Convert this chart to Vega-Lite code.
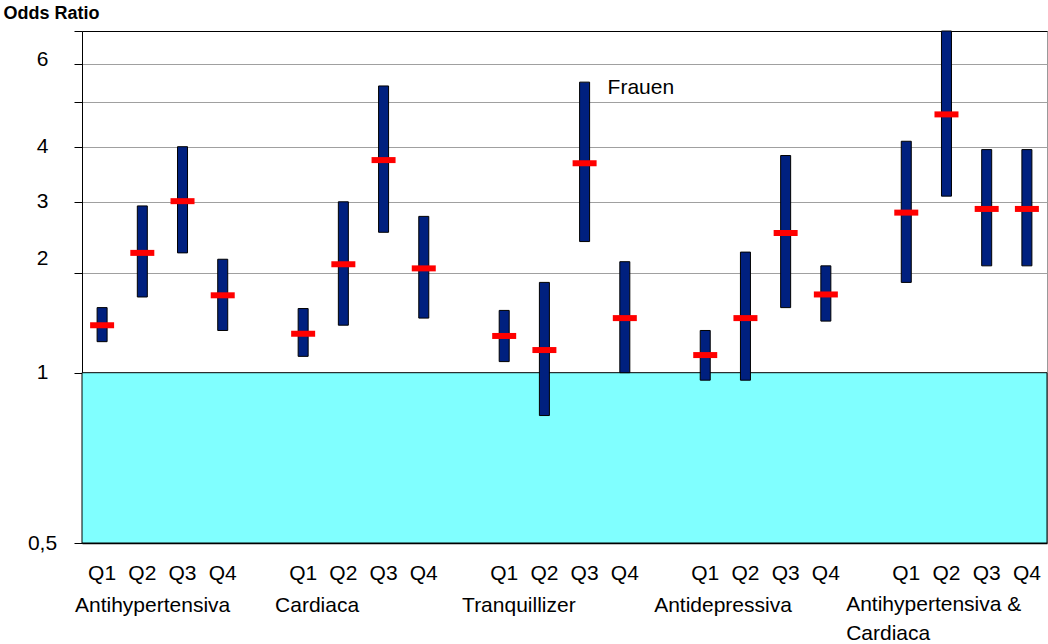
{
  "$schema": "https://vega.github.io/schema/vega-lite/v6.json",
  "width": 965,
  "height": 512,
  "autosize": {"type": "none"},
  "padding": {"left": 82, "top": 31, "right": 1, "bottom": 101},
  "config": {
    "font": "Liberation Sans",
    "view": {"stroke": "#999999", "strokeWidth": 1},
    "text": {"font": "Liberation Sans", "fontSize": 21, "color": "#000000"}
  },
  "datasets": {
    "ci": [
      {"slot": "Antihypertensiva Q1", "group": "Antihypertensiva", "q": "Q1", "lo": 1.24, "est": 1.39, "hi": 1.57},
      {"slot": "Antihypertensiva Q2", "group": "Antihypertensiva", "q": "Q2", "lo": 1.69, "est": 2.24, "hi": 2.93},
      {"slot": "Antihypertensiva Q3", "group": "Antihypertensiva", "q": "Q3", "lo": 2.24, "est": 3.01, "hi": 4.0},
      {"slot": "Antihypertensiva Q4", "group": "Antihypertensiva", "q": "Q4", "lo": 1.34, "est": 1.71, "hi": 2.16},
      {"slot": "Cardiaca Q1", "group": "Cardiaca", "q": "Q1", "lo": 1.12, "est": 1.31, "hi": 1.56},
      {"slot": "Cardiaca Q2", "group": "Cardiaca", "q": "Q2", "lo": 1.39, "est": 2.1, "hi": 3.0},
      {"slot": "Cardiaca Q3", "group": "Cardiaca", "q": "Q3", "lo": 2.52, "est": 3.73, "hi": 5.4},
      {"slot": "Cardiaca Q4", "group": "Cardiaca", "q": "Q4", "lo": 1.46, "est": 2.05, "hi": 2.76},
      {"slot": "Tranquillizer Q1", "group": "Tranquillizer", "q": "Q1", "lo": 1.08, "est": 1.29, "hi": 1.54},
      {"slot": "Tranquillizer Q2", "group": "Tranquillizer", "q": "Q2", "lo": 0.84, "est": 1.17, "hi": 1.87},
      {"slot": "Tranquillizer Q3", "group": "Tranquillizer", "q": "Q3", "lo": 2.39, "est": 3.67, "hi": 5.5},
      {"slot": "Tranquillizer Q4", "group": "Tranquillizer", "q": "Q4", "lo": 1.0, "est": 1.46, "hi": 2.13},
      {"slot": "Antidepressiva Q1", "group": "Antidepressiva", "q": "Q1", "lo": 0.97, "est": 1.13, "hi": 1.34},
      {"slot": "Antidepressiva Q2", "group": "Antidepressiva", "q": "Q2", "lo": 0.97, "est": 1.46, "hi": 2.25},
      {"slot": "Antidepressiva Q3", "group": "Antidepressiva", "q": "Q3", "lo": 1.57, "est": 2.51, "hi": 3.82},
      {"slot": "Antidepressiva Q4", "group": "Antidepressiva", "q": "Q4", "lo": 1.43, "est": 1.72, "hi": 2.08},
      {"slot": "Antihypertensiva & Cardiaca Q1", "group": "Antihypertensiva & Cardiaca", "q": "Q1", "lo": 1.87, "est": 2.82, "hi": 4.11},
      {"slot": "Antihypertensiva & Cardiaca Q2", "group": "Antihypertensiva & Cardiaca", "q": "Q2", "lo": 3.09, "est": 4.7, "hi": 7.0},
      {"slot": "Antihypertensiva & Cardiaca Q3", "group": "Antihypertensiva & Cardiaca", "q": "Q3", "lo": 2.08, "est": 2.88, "hi": 3.94},
      {"slot": "Antihypertensiva & Cardiaca Q4", "group": "Antihypertensiva & Cardiaca", "q": "Q4", "lo": 2.08, "est": 2.88, "hi": 3.94}
    ]
  },
  "layer": [
    {
      "data": {"values": [{"lo": 0.5, "hi": 1}]},
      "mark": {"type": "rect", "fill": "#80ffff", "stroke": "#000000", "strokeWidth": 1},
      "encoding": {
        "y": {"field": "lo", "type": "quantitative",
          "scale": {"type": "log", "domain": [0.5, 1, 2, 3, 4, 5, 6, 7], "range": [512, 341.7, 241.7, 170.8, 115.7, 71, 33, 0], "nice": false},
          "axis": {
            "title": "Odds Ratio", "titleAngle": 0, "titleAlign": "left", "titleBaseline": "alphabetic",
            "titleX": -79, "titleY": -13, "titleFontWeight": "bold", "titleFontSize": 18, "titleFont": "Liberation Sans", "titleColor": "#000000",
            "values": [0.5, 1, 2, 3, 4, 5, 6, 7],
            "labelExpr": "datum.value == 0.5 ? '0,5' : (datum.value == 5 || datum.value == 7 ? '' : datum.label)",
            "labelAlign": "center", "labelBaseline": "middle", "labelPadding": 32,
            "labelFontSize": 21, "labelFont": "Liberation Sans", "labelColor": "#000000",
            "labelOffset": {"condition": [{"test": "datum.value == 2", "value": -14}, {"test": "datum.value == 6", "value": -5}], "value": 0},
            "tickSize": 8, "tickColor": "#000000", "tickWidth": 1,
            "domainColor": "#000000", "domainWidth": 1,
            "grid": true, "gridColor": {"condition": {"test": "datum.value == 7", "value": "#000000"}, "value": "#a0a0a0"}, "gridWidth": 1.2
          }
        },
        "y2": {"field": "hi"}
      }
    },
    {
      "data": {"name": "ci"},
      "mark": {"type": "bar", "width": 10, "fill": "#00207f", "stroke": "#000000", "strokeWidth": 1},
      "encoding": {
        "x": {"field": "slot", "type": "nominal",
          "scale": {"domain": ["Antihypertensiva Q1", "Antihypertensiva Q2", "Antihypertensiva Q3", "Antihypertensiva Q4", "gap1", "Cardiaca Q1", "Cardiaca Q2", "Cardiaca Q3", "Cardiaca Q4", "gap2", "Tranquillizer Q1", "Tranquillizer Q2", "Tranquillizer Q3", "Tranquillizer Q4", "gap3", "Antidepressiva Q1", "Antidepressiva Q2", "Antidepressiva Q3", "Antidepressiva Q4", "gap4", "Antihypertensiva & Cardiaca Q1", "Antihypertensiva & Cardiaca Q2", "Antihypertensiva & Cardiaca Q3", "Antihypertensiva & Cardiaca Q4"], "paddingInner": 0, "paddingOuter": 0},
          "axis": {
            "title": null, "labelAngle": 0, "ticks": false, "tickSize": 0,
            "labelExpr": "indexof(datum.value, ' Q') > 0 ? slice(datum.value, -2) : ''",
            "labelFontSize": 21, "labelFont": "Liberation Sans", "labelColor": "#000000", "labelPadding": 19,
            "domainColor": "#000000", "domainWidth": 1.5, "grid": false
          }
        },
        "y": {"field": "lo", "type": "quantitative",
          "scale": {"type": "log", "domain": [0.5, 1, 2, 3, 4, 5, 6, 7], "range": [512, 341.7, 241.7, 170.8, 115.7, 71, 33, 0], "nice": false}},
        "y2": {"field": "hi"}
      }
    },
    {
      "data": {"name": "ci"},
      "mark": {"type": "tick", "size": 24, "thickness": 6, "color": "#ff0000", "opacity": 1},
      "encoding": {
        "x": {"field": "slot", "type": "nominal",
          "scale": {"domain": ["Antihypertensiva Q1", "Antihypertensiva Q2", "Antihypertensiva Q3", "Antihypertensiva Q4", "gap1", "Cardiaca Q1", "Cardiaca Q2", "Cardiaca Q3", "Cardiaca Q4", "gap2", "Tranquillizer Q1", "Tranquillizer Q2", "Tranquillizer Q3", "Tranquillizer Q4", "gap3", "Antidepressiva Q1", "Antidepressiva Q2", "Antidepressiva Q3", "Antidepressiva Q4", "gap4", "Antihypertensiva & Cardiaca Q1", "Antihypertensiva & Cardiaca Q2", "Antihypertensiva & Cardiaca Q3", "Antihypertensiva & Cardiaca Q4"], "paddingInner": 0, "paddingOuter": 0}},
        "y": {"field": "est", "type": "quantitative",
          "scale": {"type": "log", "domain": [0.5, 1, 2, 3, 4, 5, 6, 7], "range": [512, 341.7, 241.7, 170.8, 115.7, 71, 33, 0], "nice": false}}
      }
    },
    {
      "data": {"values": [{"slot": "Antihypertensiva Q1", "label": "Antihypertensiva", "at": 0.5}]},
      "mark": {"type": "text", "align": "left", "baseline": "alphabetic", "dx": -7, "dy": 69},
      "encoding": {
        "x": {"field": "slot", "type": "nominal", "bandPosition": 0},
        "y": {"field": "at", "type": "quantitative"},
        "text": {"field": "label"}
      }
    },
    {
      "data": {"values": [{"slot": "Cardiaca Q1", "label": "Cardiaca", "at": 0.5}]},
      "mark": {"type": "text", "align": "left", "baseline": "alphabetic", "dx": -8, "dy": 69},
      "encoding": {
        "x": {"field": "slot", "type": "nominal", "bandPosition": 0},
        "y": {"field": "at", "type": "quantitative"},
        "text": {"field": "label"}
      }
    },
    {
      "data": {"values": [{"slot": "Tranquillizer Q1", "label": "Tranquillizer", "at": 0.5}]},
      "mark": {"type": "text", "align": "left", "baseline": "alphabetic", "dx": -22, "dy": 69},
      "encoding": {
        "x": {"field": "slot", "type": "nominal", "bandPosition": 0},
        "y": {"field": "at", "type": "quantitative"},
        "text": {"field": "label"}
      }
    },
    {
      "data": {"values": [{"slot": "Antidepressiva Q1", "label": "Antidepressiva", "at": 0.5}]},
      "mark": {"type": "text", "align": "left", "baseline": "alphabetic", "dx": -31, "dy": 69},
      "encoding": {
        "x": {"field": "slot", "type": "nominal", "bandPosition": 0},
        "y": {"field": "at", "type": "quantitative"},
        "text": {"field": "label"}
      }
    },
    {
      "data": {"values": [{"slot": "Antihypertensiva & Cardiaca Q1", "label": ["Antihypertensiva &", " Cardiaca"], "at": 0.5}]},
      "mark": {"type": "text", "align": "left", "baseline": "alphabetic", "dx": -40, "dy": 68, "lineHeight": 29},
      "encoding": {
        "x": {"field": "slot", "type": "nominal", "bandPosition": 0},
        "y": {"field": "at", "type": "quantitative"},
        "text": {"field": "label"}
      }
    },
    {
      "data": {"values": [{"slot": "Tranquillizer Q3", "label": "Frauen", "at": 5}]},
      "mark": {"type": "text", "align": "left", "baseline": "alphabetic", "dx": 23, "dy": -8},
      "encoding": {
        "x": {"field": "slot", "type": "nominal"},
        "y": {"field": "at", "type": "quantitative"},
        "text": {"field": "label"}
      }
    }
  ]
}
